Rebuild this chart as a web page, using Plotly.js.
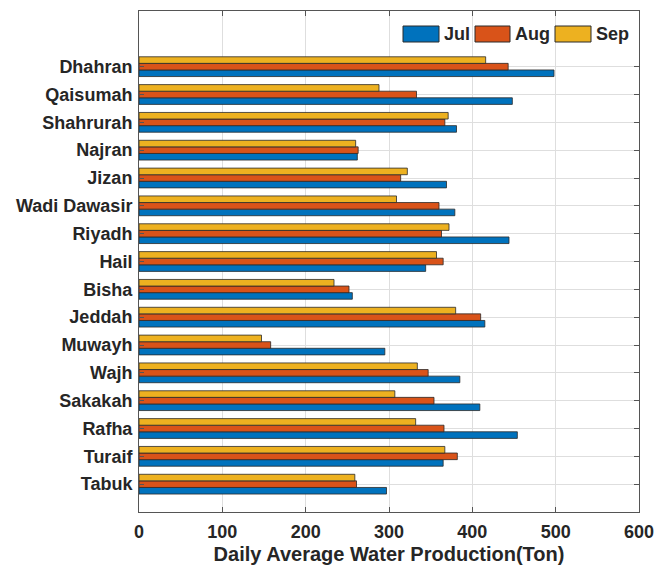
<!DOCTYPE html>
<html>
<head>
<meta charset="utf-8">
<script src="https://cdn.plot.ly/plotly-3.0.1.min.js"></script>
<style>
  html, body { margin: 0; padding: 0; background: #ffffff; }
  #chart { width: 668px; height: 566px; }
</style>
</head>
<body>
<div id="chart"></div>
<script>
// Stations, listed from the bottom of the chart to the top
const stations = ["Tabuk", "Turaif", "Rafha", "Sakakah", "Wajh", "Muwayh", "Jeddah", "Bisha",
                  "Hail", "Riyadh", "Wadi Dawasir", "Jizan", "Najran", "Shahrurah", "Qaisumah", "Dhahran"];

// Daily average water production (ton) per month
const julValues = [297, 365, 454, 409, 385, 295, 415, 256, 344, 444, 379, 369, 262, 381, 448, 498];
const augValues = [261, 382, 366, 354, 347, 158, 410, 252, 365, 363, 360, 314, 263, 367, 333, 443];
const sepValues = [259, 367, 332, 307, 334, 147, 380, 234, 357, 372, 309, 322, 260, 371, 288, 416];

const months = ["Jul", "Aug", "Sep"];
const monthColors = ["#0072BD", "#D95319", "#EDB120"];
const seriesValues = [julValues, augValues, sepValues];

const xTicks = [0, 100, 200, 300, 400, 500, 600];
const positions = stations.map((_, i) => i + 1);

const fontFamily = "Liberation Sans, Arial, Helvetica, sans-serif";
const textColor = "#262626";

const traces = months.map((m, k) => ({
  type: "bar",
  orientation: "h",
  name: m,
  x: seriesValues[k],
  y: positions,
  marker: { color: monthColors[k], line: { color: "#2a2a2a", width: 0.8 } },
  showlegend: false,
  hovertemplate: "%{text}: %{x}<extra>" + m + "</extra>",
  text: stations,
  textposition: "none"
}));

// Plot area in page pixels, used to place the legend boxes
const W = 668, H = 566;
const margin = { l: 139, r: 29, t: 11, b: 54 };
const plotW = W - margin.l - margin.r;
const plotH = H - margin.t - margin.b;
const px = v => (v - margin.l) / plotW;
const py = v => (H - margin.b - v) / plotH;

const legendBoxes = [
  { x0: 403, x1: 439, tx: 442 },
  { x0: 475, x1: 510, tx: 513 },
  { x0: 555, x1: 591, tx: 594 }
];
const legTop = 26, legBottom = 42;

const shapes = legendBoxes.map((b, k) => ({
  type: "rect", xref: "paper", yref: "paper",
  x0: px(b.x0), x1: px(b.x1), y0: py(legBottom), y1: py(legTop),
  fillcolor: monthColors[k], line: { color: "#2a2a2a", width: 1 }
}));

const annotations = legendBoxes.map((b, k) => ({
  xref: "paper", yref: "paper",
  x: px(b.tx), y: py((legTop + legBottom) / 2),
  xanchor: "left", yanchor: "middle",
  text: "<b>" + months[k] + "</b>", showarrow: false,
  font: { family: fontFamily, size: 18, color: textColor }
}));

const layout = {
  width: W, height: H,
  margin: margin,
  paper_bgcolor: "#ffffff",
  plot_bgcolor: "#ffffff",
  barmode: "group",
  bargap: 0.29,
  bargroupgap: 0,
  font: { family: fontFamily, color: textColor },
  xaxis: {
    range: [0, 600],
    tickvals: xTicks,
    ticktext: xTicks.map(v => "<b>" + v + "</b>"),
    tickfont: { family: fontFamily, size: 18, color: textColor },
    showgrid: true, gridcolor: "#dedede", gridwidth: 1,
    zeroline: false,
    showline: true, linecolor: "#555555", linewidth: 1, mirror: "ticks",
    ticks: "inside", ticklen: 5, tickcolor: "#555555", tickwidth: 1,
    ticklabelstandoff: 3,
    title: {
      text: "<b>Daily Average Water Production(Ton)</b>",
      font: { family: fontFamily, size: 20, color: textColor },
      standoff: 6
    },
    fixedrange: true
  },
  yaxis: {
    range: [0, 18],
    tickvals: positions,
    ticktext: stations.map(s => "<b>" + s + "</b>"),
    tickfont: { family: fontFamily, size: 18, color: textColor },
    showgrid: true, gridcolor: "#dedede", gridwidth: 1,
    zeroline: false,
    showline: true, linecolor: "#555555", linewidth: 1, mirror: "ticks",
    ticks: "inside", ticklen: 5, tickcolor: "#555555", tickwidth: 1,
    ticklabelstandoff: 2,
    fixedrange: true
  },
  shapes: shapes,
  annotations: annotations
};

Plotly.newPlot("chart", traces, layout, { displayModeBar: false, staticPlot: true });
</script>
</body>
</html>
